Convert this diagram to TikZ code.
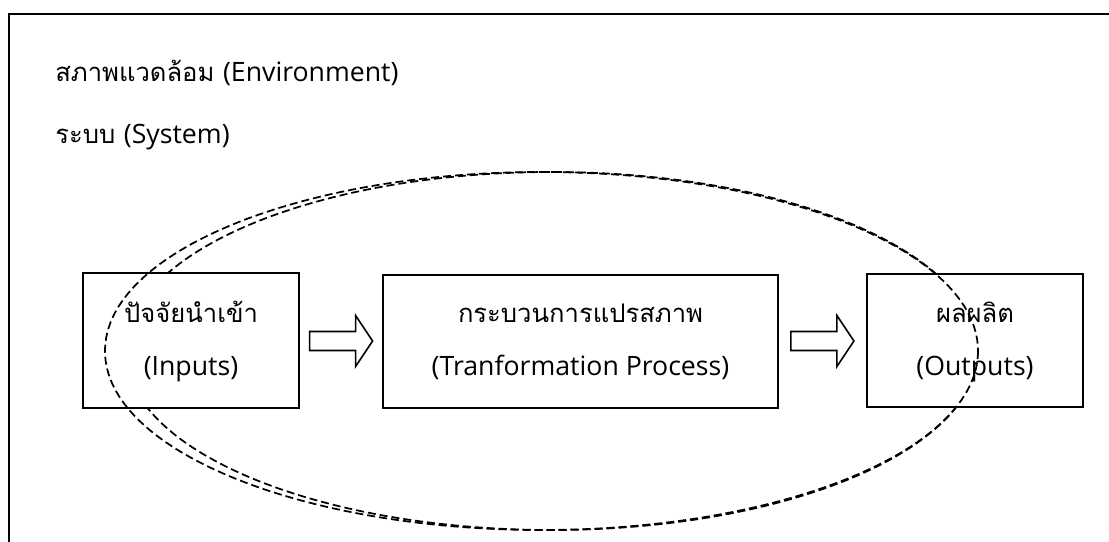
\documentclass[tikz,border=0pt]{standalone}
\usepackage{fontspec}
\setmainfont[Script=Thai]{Loma}
\newfontfamily\latinfont{Open Sans}
\newcommand{\lat}[1]{{\latinfont\fontsize{20pt}{24pt}\selectfont #1}}
\usetikzlibrary{calc}

\tikzset{
  txt/.style={font=\fontsize{19.2pt}{24pt}\selectfont, inner sep=0pt},
  framebox/.style={draw, line width=1.4pt, fill=white, inner sep=0pt},
  blockarrow/.style={draw, line width=1.2pt, fill=white, line join=miter},
  sysline/.style={dash pattern=on 6pt off 3pt, line width=1.3pt}
}

\begin{document}
\begin{tikzpicture}[x=0.75pt, y=-0.75pt]

\useasboundingbox (0,0) rectangle (1109,542);
\clip (0,0) rectangle (1109,542);

% Environment frame
\draw[line width=1.5pt] (9,14) rectangle (1130,570);

\node[txt, anchor=base west] (envtxt) at (55,82) {สภาพแวดล้อม \lat{(Environment)}};
\node[txt, anchor=base west] (systxt) at (55,143) {ระบบ \lat{(System)}};

% System boundary (back)
\draw[sysline] (551.5,351) ellipse [x radius=426, y radius=179];

% Boxes
\node[framebox, minimum width=162pt, minimum height=101pt] (in) at (191,340.5) {};
\node[framebox, minimum width=296pt, minimum height=100pt] (proc) at (580.5,341.5) {};
\node[framebox, minimum width=162pt, minimum height=100pt] (out) at (975,340.5) {};

\node[txt, anchor=base] (inth) at (191,322) {ปัจจัยนำเข้า};
\node[txt, anchor=base] (inen) at (191,375) {\lat{(Inputs)}};
\node[txt, anchor=base] (procth) at (580.5,322) {กระบวนการแปรสภาพ};
\node[txt, anchor=base] (procen) at (580.5,375) {\lat{(Tranformation Process)}};
\node[txt, anchor=base] (outth) at (975,322) {ผลผลิต};
\node[txt, anchor=base] (outen) at (975,375) {\lat{(Outputs)}};

% Arrows
\coordinate (a1) at ($(in.east)!0.5!(proc.west)$);
\coordinate (a2) at ($(proc.east)!0.5!(out.west)$);
\draw[blockarrow] (a1) ++(-31.5,-9.5) -- ++(46,0) -- ++(0,-16) -- ++(17,25.5)
  -- ++(-17,25.5) -- ++(0,-16) -- ++(-46,0) -- cycle;
\draw[blockarrow] (a2) ++(-31.5,-9.5) -- ++(46,0) -- ++(0,-16) -- ++(17,25.5)
  -- ++(-17,25.5) -- ++(0,-16) -- ++(-46,0) -- cycle;

% System boundary (front)
\draw[sysline] (541.5,351) ellipse [x radius=436.5, y radius=179];

\end{tikzpicture}
\end{document}
